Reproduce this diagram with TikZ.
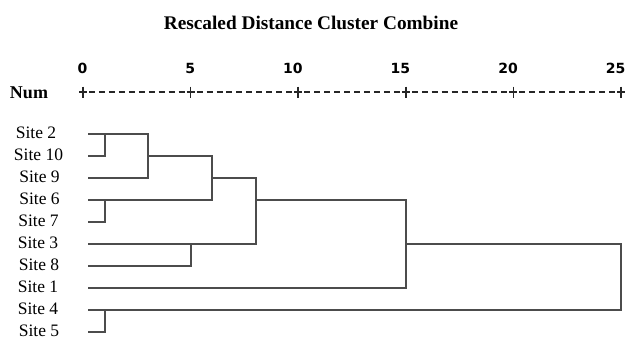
\documentclass[tikz,border=0pt]{standalone}
\usepackage{fontspec}
\setmainfont{Liberation Serif}
\newfontfamily\numfont{DejaVu Sans}
\begin{document}
\begin{tikzpicture}[x=1pt,y=-1pt,
  link/.style={draw=black!70, line width=1.8pt, line cap=rect},
  axisline/.style={draw=black!85, line width=1.5pt},
  sitelabel/.style={anchor=base, inner sep=0pt, font=\fontsize{17.5}{20}\selectfont},
  ticklabel/.style={anchor=base east, inner sep=0pt, font=\numfont\bfseries\fontsize{14}{16}\selectfont},
  titlelabel/.style={anchor=center, inner sep=0pt, font=\bfseries\fontsize{19.3}{22}\selectfont}]
\useasboundingbox (0,0) rectangle (627,340);
% title
\node[titlelabel] (title) at (311,23) {Rescaled Distance Cluster Combine};
\node[anchor=base, inner sep=0pt, font=\bfseries\fontsize{18}{20}\selectfont] (num) at (29,98) {Num};
% axis
\foreach \v [count=\k from 0] in {0,5,10,15,20,25} {
  \pgfmathsetmacro{\xx}{83+21.52*\v}
  \node[ticklabel] (t\k) at (\xx+4.6,73) {\v};
  \draw[axisline] (\xx,86.5) -- (\xx,97.5) (\xx-4,92) -- (\xx+4,92);
}
\foreach \k in {0,...,4} {
  \foreach \d in {0,...,9} {
    \pgfmathsetmacro{\xs}{83+107.6*\k+4+2+\d*9.96}
    \draw[axisline] (\xs,92) -- (\xs+6,92);
  }
}
% site labels and leaf coordinates
\foreach \n/\lab/\xc [count=\i from 0] in {s2/Site 2/36, s10/Site 10/38.5, s9/Site 9/39.5, s6/Site 6/39.5, s7/Site 7/38.5, s3/Site 3/38, s8/Site 8/39, s1/Site 1/38, s4/Site 4/38, s5/Site 5/39} {
  \pgfmathsetmacro{\yy}{134.3+22*\i}
  \node[sitelabel] (L\n) at (\xc,\yy+4) {\lab};
  \coordinate (\n) at (89.3,\yy);
}
% junction x positions
\coordinate (ja) at (105,0);
\coordinate (jb) at (147.7,0);
\coordinate (jc) at (212.3,0);
\coordinate (jd) at (190.7,0);
\coordinate (je) at (256,0);
\coordinate (jf) at (406,0);
\coordinate (jg) at (621,0);
% dendrogram
\draw[link] (s2) -- (s2 -| jb) -- (s9 -| jb) -- (s9);
\draw[link] (s2 -| ja) -- (s10 -| ja) -- (s10);
\draw[link] (s10 -| jb) -- (s10 -| jc) -- (s6 -| jc) -- (s6);
\draw[link] (s6 -| ja) -- (s7 -| ja) -- (s7);
\draw[link] (s9 -| jc) -- (s9 -| je) -- (s3 -| je) -- (s3);
\draw[link] (s3 -| jd) -- (s8 -| jd) -- (s8);
\draw[link] (s6 -| je) -- (s6 -| jf) -- (s1 -| jf) -- (s1);
\draw[link] (s3 -| jf) -- (s3 -| jg) -- (s4 -| jg) -- (s4);
\draw[link] (s4 -| ja) -- (s5 -| ja) -- (s5);
\end{tikzpicture}
\end{document}
